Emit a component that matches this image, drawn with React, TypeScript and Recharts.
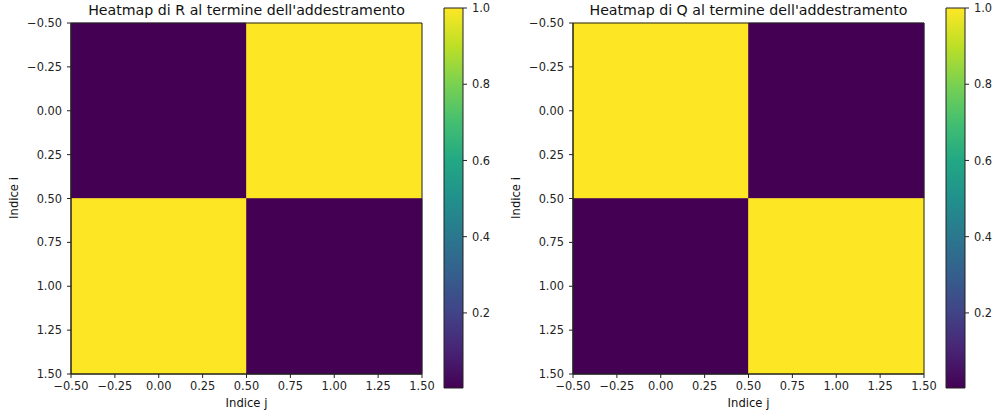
import React from "react";
import { ComposedChart, XAxis, YAxis, ReferenceArea, Scatter } from "recharts";

// matrices (row i, column j)
const rowIndex = [0, 1];
const colIndex = [0, 1];
const matrixR = [
  [0.003, 1.0],
  [1.0, 0.003],
];
const matrixQ = [
  [1.0, 0.003],
  [0.003, 1.0],
];
const axisTicks = [-0.5, -0.25, 0, 0.25, 0.5, 0.75, 1, 1.25, 1.5];
const colorbarTicks = [0.2, 0.4, 0.6, 0.8, 1.0];

const VIRIDIS = [
  "#440154", "#482475", "#414487", "#355f8d", "#2a788e", "#21918c",
  "#22a884", "#44bf70", "#7ad151", "#bddf26", "#fde725",
];

const FONT = "'DejaVu Sans', sans-serif";
const INK = "#222";

function hexToRgb(h: string) {
  return [1, 3, 5].map((i) => parseInt(h.slice(i, i + 2), 16));
}

function viridis(t: number) {
  const x = Math.max(0, Math.min(1, t)) * (VIRIDIS.length - 1);
  const i = Math.min(Math.floor(x), VIRIDIS.length - 2);
  const f = x - i;
  const a = hexToRgb(VIRIDIS[i]);
  const b = hexToRgb(VIRIDIS[i + 1]);
  const c = a.map((v, k) => Math.round(v + (b[k] - v) * f));
  return `rgb(${c[0]},${c[1]},${c[2]})`;
}

const fmt2 = (v: number) => v.toFixed(2).replace("-", "\u2212");
const fmt1 = (v: number) => v.toFixed(1);

const tickStyle = { fontSize: 11.4, fill: INK, fontFamily: FONT };

function Heatmap({ title, matrix, left }: { title: string; matrix: number[][]; left: number }) {
  const flat = matrix.flat();
  const vmin = Math.min(...flat);
  const vmax = Math.max(...flat);
  const cells = rowIndex.flatMap((i) =>
    colIndex.map((j) => ({ x: j, y: i, v: matrix[i][j] }))
  );
  return (
    <>
      <div style={{ position: "absolute", left, top: 0 }}>
        <ComposedChart
          width={440}
          height={416}
          data={cells}
          margin={{ top: 23, left: 21, right: 18, bottom: 12 }}
        >
          <XAxis
            type="number"
            dataKey="x"
            domain={[-0.5, 1.5]}
            ticks={axisTicks}
            interval={0}
            allowDataOverflow
            tickFormatter={fmt2}
            tick={tickStyle}
            tickSize={4}
            tickMargin={4}
            height={30}
            stroke={INK}
          />
          <YAxis
            type="number"
            dataKey="y"
            domain={[-0.5, 1.5]}
            ticks={axisTicks}
            interval={0}
            reversed
            allowDataOverflow
            tickFormatter={fmt2}
            tick={tickStyle}
            tickSize={4}
            tickMargin={5}
            width={50}
            stroke={INK}
          />
          {cells.map((c) => {
            const col = viridis((c.v - vmin) / (vmax - vmin));
            return (
              <ReferenceArea
                key={`${c.x}-${c.y}`}
                x1={c.x - 0.5}
                x2={c.x + 0.5}
                y1={c.y - 0.5}
                y2={c.y + 0.5}
                fill={col}
                fillOpacity={1}
                stroke={col}
                strokeWidth={0.6}
              />
            );
          })}
          <ReferenceArea x1={-0.5} x2={1.5} y1={-0.5} y2={1.5} fill="none" stroke={INK} strokeWidth={1} />
          <Scatter dataKey="y" shape={() => <g />} isAnimationActive={false} />
        </ComposedChart>
        <div
          style={{
            position: "absolute", left: 71, width: 351, top: 2, textAlign: "center",
            fontFamily: FONT, fontSize: 14.2, color: "#111", whiteSpace: "nowrap",
          }}
        >
          {title}
        </div>
        <div
          style={{
            position: "absolute", left: 71, width: 351, top: 396, textAlign: "center",
            fontFamily: FONT, fontSize: 11.6, color: "#111",
          }}
        >
          Indice j
        </div>
        <div
          style={{
            position: "absolute", left: 14, top: 198, transform: "translate(-50%, -50%) rotate(-90deg)",
            fontFamily: FONT, fontSize: 11.6, color: "#111", whiteSpace: "nowrap",
          }}
        >
          Indice i
        </div>
      </div>
      <div style={{ position: "absolute", left: left + 430, top: 0 }}>
        <ComposedChart
          width={80}
          height={416}
          data={cells}
          margin={{ top: 8, left: 14, right: 12, bottom: 28 }}
        >
          <XAxis type="number" dataKey="x" domain={[0, 1]} hide />
          <YAxis
            type="number"
            dataKey="v"
            orientation="right"
            domain={[vmin, vmax]}
            ticks={colorbarTicks}
            interval={0}
            allowDataOverflow
            tickFormatter={fmt1}
            tick={tickStyle}
            tickSize={4}
            tickMargin={5}
            width={35}
            stroke={INK}
            axisLine={false}
          />
          <ReferenceArea
            x1={0}
            x2={1}
            y1={vmin}
            y2={vmax}
            fill="url(#viridisGrad)"
            fillOpacity={1}
            stroke={INK}
            strokeWidth={1}
          />
          <Scatter dataKey="v" shape={() => <g />} isAnimationActive={false} />
        </ComposedChart>
      </div>
    </>
  );
}

export default function App() {
  return (
    <div
      style={{
        position: "absolute", left: 0, top: 0, width: 998, height: 416,
        background: "#fff", overflow: "hidden",
      }}
    >
      <svg width={0} height={0} style={{ position: "absolute" }}>
        <defs>
          <linearGradient id="viridisGrad" x1="0" y1="1" x2="0" y2="0">
            {VIRIDIS.map((c, i) => (
              <stop key={c} offset={i / (VIRIDIS.length - 1)} stopColor={c} />
            ))}
          </linearGradient>
        </defs>
      </svg>
      <Heatmap title="Heatmap di R al termine dell'addestramento" matrix={matrixR} left={0} />
      <Heatmap title="Heatmap di Q al termine dell'addestramento" matrix={matrixQ} left={502} />
    </div>
  );
}
